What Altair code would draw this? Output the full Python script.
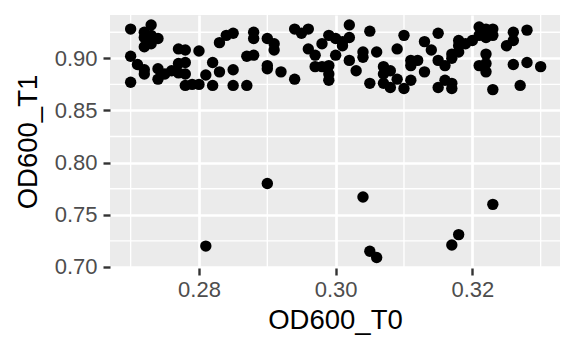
import altair as alt
import pandas as pd

od600_t0 = [
    0.270, 0.273, 0.272, 0.272, 0.274, 0.273, 0.272, 0.273, 0.270, 0.271,
    0.272, 0.272, 0.270, 0.274, 0.274, 0.275, 0.276, 0.277, 0.278, 0.280,
    0.277, 0.278, 0.277, 0.278, 0.278, 0.279, 0.280, 0.281, 0.282, 0.282,
    0.283, 0.283, 0.284, 0.285, 0.285, 0.285, 0.287, 0.287, 0.288, 0.288,
    0.288, 0.290, 0.291, 0.291, 0.290, 0.290, 0.292, 0.294, 0.294, 0.296,
    0.295, 0.296, 0.297, 0.298, 0.299, 0.300, 0.300, 0.297, 0.298, 0.299,
    0.299, 0.299, 0.302, 0.302, 0.301, 0.301, 0.302, 0.303, 0.304, 0.304,
    0.305, 0.306, 0.305, 0.307, 0.308, 0.307, 0.307, 0.308, 0.309, 0.309,
    0.310, 0.310, 0.311, 0.311, 0.311, 0.312, 0.313, 0.314, 0.315, 0.315,
    0.316, 0.315, 0.316, 0.317, 0.317, 0.318, 0.313, 0.321, 0.322, 0.323,
    0.321, 0.322, 0.323, 0.320, 0.319, 0.318, 0.318, 0.317, 0.322, 0.321,
    0.322, 0.322, 0.317, 0.323, 0.325, 0.326, 0.326, 0.328, 0.326, 0.328,
    0.330, 0.327,
    0.281, 0.290, 0.304, 0.305, 0.306, 0.317, 0.318, 0.323,
]
od600_t1 = [
    0.928, 0.932, 0.925, 0.920, 0.919, 0.922, 0.911, 0.914, 0.902, 0.894,
    0.889, 0.885, 0.877, 0.890, 0.880, 0.885, 0.888, 0.909, 0.908, 0.907,
    0.895, 0.896, 0.886, 0.885, 0.874, 0.875, 0.875, 0.884, 0.896, 0.874,
    0.915, 0.887, 0.922, 0.924, 0.889, 0.874, 0.874, 0.902, 0.925, 0.919,
    0.903, 0.919, 0.914, 0.908, 0.893, 0.890, 0.887, 0.880, 0.928, 0.928,
    0.924, 0.909, 0.903, 0.914, 0.922, 0.919, 0.903, 0.892, 0.892, 0.893,
    0.885, 0.879, 0.932, 0.920, 0.916, 0.912, 0.898, 0.888, 0.906, 0.901,
    0.926, 0.906, 0.876, 0.892, 0.888, 0.885, 0.876, 0.872, 0.909, 0.880,
    0.922, 0.871, 0.898, 0.893, 0.879, 0.898, 0.916, 0.908, 0.924, 0.898,
    0.893, 0.872, 0.879, 0.904, 0.871, 0.917, 0.887, 0.930, 0.928, 0.928,
    0.922, 0.920, 0.922, 0.917, 0.914, 0.912, 0.906, 0.900, 0.904, 0.893,
    0.895, 0.887, 0.876, 0.870, 0.912, 0.925, 0.917, 0.927, 0.894, 0.896,
    0.892, 0.874,
    0.720, 0.780, 0.767, 0.715, 0.709, 0.721, 0.731, 0.760,
]

x_ticks = [0.28, 0.30, 0.32]
y_ticks = [0.70, 0.75, 0.80, 0.85, 0.90]
x_minor = [0.27, 0.29, 0.31, 0.33]
y_minor = [0.725, 0.775, 0.825, 0.875, 0.925]

x_domain = [0.26698, 0.33283]
y_domain = [0.6990, 0.9415]

df = pd.DataFrame({"OD600_T0": od600_t0, "OD600_T1": od600_t1})
xs = alt.Scale(domain=x_domain, nice=False, zero=False)
ys = alt.Scale(domain=y_domain, nice=False, zero=False)

font = "Liberation Sans"

vminor = alt.Chart(pd.DataFrame({"v": x_minor})).mark_rule(
    color="white", strokeWidth=1.35
).encode(x=alt.X("v:Q", scale=xs))
hminor = alt.Chart(pd.DataFrame({"v": y_minor})).mark_rule(
    color="white", strokeWidth=1.35
).encode(y=alt.Y("v:Q", scale=ys))

points = alt.Chart(df).mark_circle(size=130, color="black", opacity=1).encode(
    x=alt.X(
        "OD600_T0:Q",
        scale=xs,
        axis=alt.Axis(
            values=x_ticks, format=".2f", title="OD600_T0",
            grid=True, labelPadding=4, titlePadding=6,
        ),
    ),
    y=alt.Y(
        "OD600_T1:Q",
        scale=ys,
        axis=alt.Axis(
            values=y_ticks, format=".2f", title="OD600_T1",
            grid=True, labelPadding=6, titlePadding=12,
        ),
    ),
)

chart = alt.layer(vminor, hminor, points).properties(
    width=450,
    height=253,
    autosize=alt.AutoSizeParams(type="none"),
    padding={"left": 102, "top": 7, "right": 8, "bottom": 70},
).configure_view(
    fill="#EBEBEB", stroke=None
).configure_axis(
    domain=False,
    gridColor="white",
    gridWidth=2.7,
    tickColor="#333333",
    tickWidth=2.4,
    tickSize=7,
    labelColor="#4D4D4D",
    labelFont=font,
    labelFontSize=22,
    titleFont=font,
    titleFontSize=27.5,
    titleFontWeight="normal",
    titleColor="black",
)

chart.save("out.html", embed_options={"renderer": "svg", "actions": False})
